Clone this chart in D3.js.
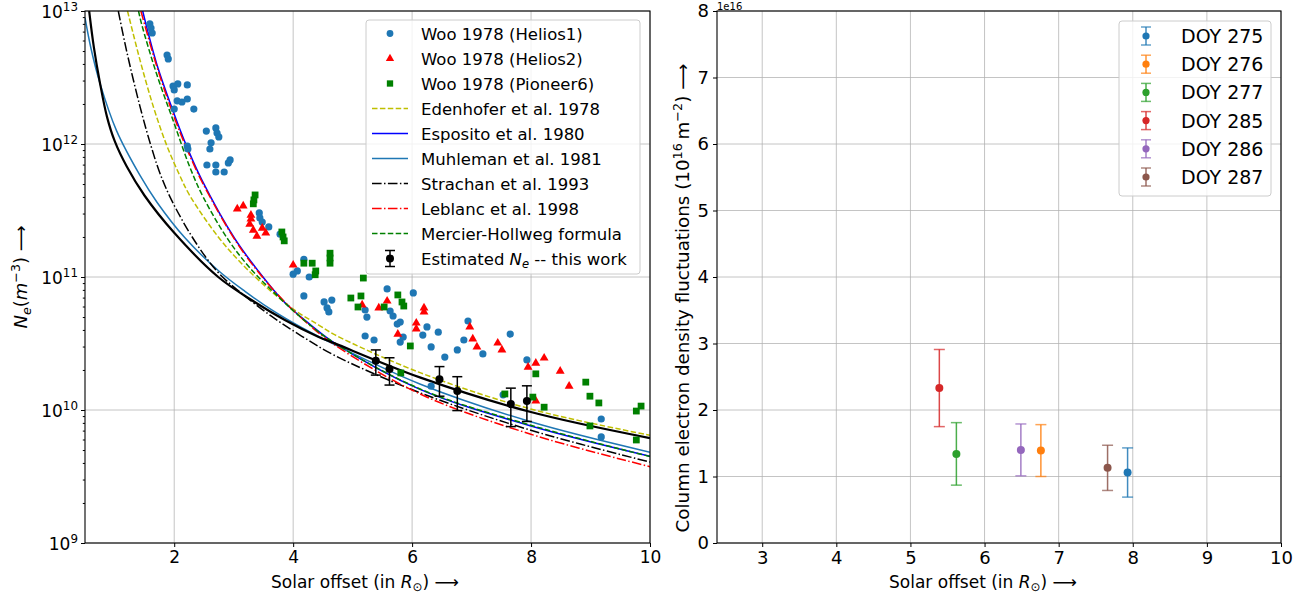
<!DOCTYPE html>
<html lang="en">
<head>
<meta charset="UTF-8">
<title>Electron density</title>
<script src="https://cdn.jsdelivr.net/npm/d3@7"></script>
<style>
  body { margin: 0; background: #fff; }
  svg { font-family: "DejaVu Sans", sans-serif; }
</style>
</head>
<body>
<svg id="chart" width="1314" height="598"></svg>
<script>
// ---- data ----
// Woo 1978 measurements [solar offset (R_sun), Ne (m^-3)]
const helios1 = [[1.59,7.99e12],[1.61,7.45e12],[1.63,6.83e12],[1.88,4.67e12],[1.90,4.36e12],[1.98,2.73e12],[2.06,2.83e12],
  [2.22,2.78e12],[2.00,2.55e12],[2.05,2.11e12],[2.00,1.83e12],[2.13,2.07e12],[2.22,2.18e12],[2.33,1.83e12],
  [2.54,1.25e12],[2.70,1.32e12],[2.72,1.21e12],[2.75,1.13e12],[2.62,1.02e12],[2.60,9.17e11],[2.22,9.66e11],
  [2.23,9.17e11],[2.55,6.95e11],[2.70,6.95e11],[2.70,6.16e11],[2.84,6.16e11],[2.91,7.20e11],[2.94,7.59e11],
  [3.43,3.03e11],[3.44,2.78e11],[3.48,2.59e11],[3.59,2.38e11],[3.78,2.10e11],[4.18,1.36e11],[4.07,1.11e11],
  [4.00,1.05e11],[4.27,1.00e11],[4.18,7.2e10],[4.52,6.49e10],[4.65,6.71e10],[4.57,5.85e10],[4.60,5.46e10],
  [5.58,8.13e10],[6.02,7.59e10],[5.21,5.65e10],[5.24,5.0e10],[5.63,5.55e10],[5.68,5.09e10],[5.80,4.59e10],
  [5.75,4.43e10],[5.21,3.60e10],[5.36,3.36e10],[5.80,3.24e10],[5.85,3.54e10],[6.25,4.21e10],[6.18,3.66e10],
  [6.44,3.85e10],[6.32,2.98e10],[6.94,4.67e10],[6.87,3.36e10],[6.76,2.83e10],[6.55,2.50e10],[7.19,2.64e10],
  [7.65,3.72e10],[7.93,2.38e10],[6.32,1.51e10],[7.53,1.30e10],[9.18,8.56e9],[9.18,6.27e9]];
const helios2 = [[3.06,3.25e11],[3.16,3.42e11],[3.29,2.92e11],[3.29,2.73e11],[3.27,2.50e11],[3.33,2.25e11],
  [3.39,2.03e11],[3.48,2.33e11],[3.54,2.14e11],[4.00,1.23e11],[5.16,6.16e10],[5.44,5.85e10],[5.58,6.6e10],
  [6.20,5.85e10],[6.20,5.46e10],[6.07,4.51e10],[6.07,4.07e10],[5.76,3.72e10],[6.97,4.21e10],[7.02,3.42e10],
  [7.09,2.98e10],[7.44,3.19e10],[7.51,2.83e10],[7.95,2.10e10],[8.08,2.25e10],[8.22,2.46e10],[8.49,1.96e10],
  [8.64,1.51e10],[8.08,1.17e10]];
const pioneer6 = [[3.36,4.14e11],[3.34,3.80e11],[3.33,3.55e11],[3.81,2.18e11],[3.83,2.00e11],[3.85,1.87e11],
  [4.18,1.27e11],[4.32,1.27e11],[4.38,1.11e11],[4.37,1.04e11],[4.62,1.51e11],[4.62,1.39e11],[4.62,1.27e11],
  [5.18,9.82e10],[4.97,6.95e10],[5.14,7.2e10],[5.09,5.95e10],[5.53,5.95e10],[5.76,7.33e10],[5.83,6.49e10],
  [5.86,6.05e10],[5.97,3.03e10],[5.81,1.90e10],[7.56,1.32e10],[8.03,1.25e10],[8.08,1.87e10],[8.22,1.05e10],
  [8.92,1.62e10],[8.99,1.27e10],[9.14,1.13e10],[8.99,7.59e9],[9.77,9.82e9],[9.85,1.07e10],[9.77,5.95e9]];

// model curves
const edenhofer = [[1.215,1e13],[1.425,4.27e12],[1.649,1.91e12],[1.874,9.77e11],[2.086,5.89e11],[2.266,4.07e11],
  [2.741,2.0e11],[3.135,1.26e11],[3.583,8.13e10],[4.031,5.62e10],[4.423,4.37e10],[4.704,3.67e10],[6.133,1.91e10],
  [7.983,1.02e10],[10,6.46e9]];
const esposito = [[1.47,1e13],[1.706,4.0e12],[1.985,1.75e12],[2.21,9.6e11],[2.462,5.4e11],[3.022,1.93e11],
  [3.414,1.11e11],[3.863,6.4e10],[4.312,4.3e10],[4.704,3.17e10],[6.133,1.43e10],[7.983,7.62e9],[10,4.49e9]];
const muhleman = [[0.5,8.9e12],[0.6,5.25e12],[0.75,2.88e12],[1.03,1.26e12],[1.43,5.75e11],[1.71,3.65e11],
  [2.18,1.97e11],[2.74,1.12e11],[3.19,7.8e10],[3.64,5.65e10],[4.14,4.17e10],[4.70,3.1e10],[6.13,1.57e10],
  [7.98,8.2e9],[10,4.82e9]];
const strachan = [[1.06,1e13],[1.2,5.0e12],[1.425,1.91e12],[1.6,1e12],[1.76,6.03e11],[1.96,3.75e11],
  [2.35,1.85e11],[2.74,1.08e11],[3.14,7.5e10],[3.64,5.05e10],[4.14,3.6e10],[4.70,2.57e10],[6.13,1.35e10],
  [7.98,7.08e9],[10,4.06e9]];
const leblanc = [[1.44,1e13],[1.706,3.84e12],[1.985,1.655e12],[2.21,9.26e11],[2.462,5.25e11],[3.022,1.90e11],
  [3.414,1.09e11],[3.863,6.46e10],[4.312,4.2e10],[4.704,3.07e10],[6.133,1.32e10],[7.983,6.6e9],[10,3.75e9]];
const mercier = [[1.40,1e13],[1.453,7.94e12],[1.706,3.34e12],[1.985,1.49e12],[2.266,6.64e11],[2.489,3.98e11],
  [2.910,1.90e11],[3.303,1.13e11],[3.751,7.11e10],[4.144,4.9e10],[4.704,3.17e10],[6.133,1.44e10],[7.983,7.71e9],
  [10,4.47e9]];
const thisWorkFit = [[0.57,1e13],[0.65,5.3e12],[0.75,2.9e12],[0.87,1.6e12],[1.0,1.05e12],[1.2,6.8e11],[1.5,4.1e11],
  [2.0,2.15e11],[2.74,1.0e11],[3.30,6.71e10],[3.86,4.75e10],[4.42,3.56e10],[4.70,3.17e10],[6.13,1.76e10],
  [7.98,9.70e9],[10,6.15e9]];

// estimated Ne -- this work
const neOffset = [5.39, 5.62, 6.46, 6.76, 7.66, 7.93];
const neValue = [2.35e10, 2.03e10, 1.70e10, 1.39e10, 1.11e10, 1.17e10];
const neLow = [1.83e10, 1.54e10, 1.27e10, 0.99e10, 0.75e10, 0.82e10];
const neHigh = [2.83e10, 2.47e10, 2.12e10, 1.78e10, 1.46e10, 1.52e10];

// column electron density fluctuations (units of 1e16 m^-2)
const doyLabels = ['DOY 275', 'DOY 276', 'DOY 277', 'DOY 285', 'DOY 286', 'DOY 287'];
const doyOffset = [7.93, 6.76, 5.62, 5.39, 6.49, 7.66];
const doyValue = [1.06, 1.39, 1.34, 2.33, 1.40, 1.13];
const doyErr = [0.37, 0.39, 0.47, 0.58, 0.39, 0.34];

const xTicksL = [2, 4, 6, 8, 10];
const yTicksL = [1e9, 1e10, 1e11, 1e12, 1e13];
const xTicksR = [3, 4, 5, 6, 7, 8, 9, 10];
const yTicksR = [0, 1, 2, 3, 4, 5, 6, 7, 8];

const legendLabelsL = ['Woo 1978 (Helios1)', 'Woo 1978 (Helios2)', 'Woo 1978 (Pioneer6)', 'Edenhofer et al. 1978',
  'Esposito et al. 1980', 'Muhleman et al. 1981', 'Strachan et al. 1993', 'Leblanc et al. 1998', 'Mercier-Hollweg formula'];

// ---- layout ----
const tab10 = ['#1f77b4', '#ff7f0e', '#2ca02c', '#d62728', '#9467bd', '#8c564b'];
const L = { x0: 85, x1: 650, y0: 11, y1: 543 };
const R = { x0: 717, x1: 1281, y0: 11, y1: 543 };
const FONT = '"DejaVu Sans", sans-serif';

const svg = d3.select('#chart');

const xL = d3.scaleLinear().domain([0.5, 10]).range([L.x0, L.x1]);
const yL = d3.scaleLog().domain([1e9, 1e13]).range([L.y1, L.y0]);
const xR = d3.scaleLinear().domain([2.39, 10]).range([R.x0, R.x1]);
const yR = d3.scaleLinear().domain([0, 8]).range([R.y1, R.y0]);

const defs = svg.append('defs');
defs.append('clipPath').attr('id', 'clipL').append('rect')
  .attr('x', L.x0).attr('y', L.y0).attr('width', L.x1 - L.x0).attr('height', L.y1 - L.y0);
defs.append('clipPath').attr('id', 'clipR').append('rect')
  .attr('x', R.x0).attr('y', R.y0).attr('width', R.x1 - R.x0).attr('height', R.y1 - R.y0);

// text with italic / sub / superscript parts
function rich(text, parts, fs) {
  let shift = 0;
  parts.forEach(([t, kind]) => {
    let target = 0;
    if (kind === 'sup' || kind === 'isup') target = -0.4 * fs;
    if (kind === 'sub' || kind === 'isub') target = 0.2 * fs;
    const ts = text.append('tspan').attr('dy', target - shift).text(t);
    shift = target;
    if (kind !== 'n' && kind !== 'i') ts.attr('font-size', fs * 0.7);
    if (kind === 'i' || kind === 'isub' || kind === 'isup') ts.attr('font-style', 'italic');
  });
}

function grid(g, xs, ys, xVals, yVals, box) {
  const gg = g.append('g').attr('stroke', '#b0b0b0').attr('stroke-width', 1).attr('stroke-opacity', 0.75);
  gg.selectAll('.gx').data(xVals).enter().append('line')
    .attr('x1', d => xs(d)).attr('x2', d => xs(d)).attr('y1', box.y0).attr('y2', box.y1);
  gg.selectAll('.gy').data(yVals).enter().append('line')
    .attr('y1', d => ys(d)).attr('y2', d => ys(d)).attr('x1', box.x0).attr('x2', box.x1);
}

function styleAxis(g, fs) {
  g.select('.domain').remove();
  g.attr('font-family', FONT).attr('font-size', fs);
  g.selectAll('line').attr('stroke', '#000').attr('stroke-width', 1);
  g.selectAll('text').attr('fill', '#000');
}

// ================= left panel =================
const left = svg.append('g');
grid(left, xL, yL, xTicksL, yTicksL, L);

const lineL = d3.line().x(d => xL(d[0])).y(d => yL(d[1])).curve(d3.curveCatmullRom.alpha(0.5));
const curves = left.append('g').attr('clip-path', 'url(#clipL)').attr('fill', 'none');

const modelStyles = [
  { data: edenhofer, color: '#bfbf00', dash: '5.5,2.4', w: 1.5 },
  { data: esposito, color: '#0000ff', dash: null, w: 1.5 },
  { data: muhleman, color: '#1f77b4', dash: null, w: 1.5 },
  { data: strachan, color: '#000000', dash: '9.6,2.4,1.5,2.4', w: 1.5 },
  { data: leblanc, color: '#ff0000', dash: '9.6,2.4,1.5,2.4', w: 1.5 },
  { data: mercier, color: '#008000', dash: '5.5,2.4', w: 1.5 }
];

// scatter markers
const pts = left.append('g').attr('clip-path', 'url(#clipL)');
pts.selectAll('.h1').data(helios1).enter().append('circle')
  .attr('cx', d => xL(d[0])).attr('cy', d => yL(d[1])).attr('r', 3.6).attr('fill', '#1f77b4');
pts.selectAll('.h2').data(helios2).enter().append('path')
  .attr('transform', d => `translate(${xL(d[0])},${yL(d[1])})`)
  .attr('d', d3.symbol(d3.symbolTriangle, 34)).attr('fill', '#ff0000');
pts.selectAll('.p6').data(pioneer6).enter().append('path')
  .attr('transform', d => `translate(${xL(d[0])},${yL(d[1])})`)
  .attr('d', d3.symbol(d3.symbolSquare, 46)).attr('fill', '#008000');

modelStyles.forEach(m => {
  curves.append('path').datum(m.data).attr('d', lineL)
    .attr('stroke', m.color).attr('stroke-width', m.w)
    .attr('stroke-dasharray', m.dash);
});
curves.append('path').datum(thisWorkFit).attr('d', lineL)
  .attr('stroke', '#000').attr('stroke-width', 2.2);

// error bars
const ebL = left.append('g').attr('stroke', '#000').attr('stroke-width', 1.5);
neOffset.forEach((x, i) => {
  const cx = xL(x);
  ebL.append('line').attr('x1', cx).attr('x2', cx).attr('y1', yL(neLow[i])).attr('y2', yL(neHigh[i]));
  ebL.append('line').attr('x1', cx - 5).attr('x2', cx + 5).attr('y1', yL(neLow[i])).attr('y2', yL(neLow[i]));
  ebL.append('line').attr('x1', cx - 5).attr('x2', cx + 5).attr('y1', yL(neHigh[i])).attr('y2', yL(neHigh[i]));
  ebL.append('circle').attr('cx', cx).attr('cy', yL(neValue[i])).attr('r', 4).attr('fill', '#000').attr('stroke', 'none');
});

left.append('rect').attr('x', L.x0).attr('y', L.y0).attr('width', L.x1 - L.x0).attr('height', L.y1 - L.y0)
  .attr('fill', 'none').attr('stroke', '#000').attr('stroke-width', 1.1);

// axes
const axXL = left.append('g').attr('transform', `translate(0,${L.y1})`)
  .call(d3.axisBottom(xL).tickValues(xTicksL).tickSize(4).tickPadding(4).tickFormat(d3.format('d')));
styleAxis(axXL, 17);

const minorL = [];
yTicksL.slice(0, -1).forEach(dec => { for (let k = 2; k <= 9; k++) minorL.push(dec * k); });
const axMinor = left.append('g').attr('transform', `translate(${L.x0},0)`)
  .call(d3.axisLeft(yL).tickValues(minorL).tickSize(2.2).tickFormat(''));
styleAxis(axMinor, 17);
axMinor.selectAll('.tick text').remove();

const axYL = left.append('g').attr('transform', `translate(${L.x0},0)`)
  .call(d3.axisLeft(yL).tickValues(yTicksL).tickSize(4).tickFormat(''));
styleAxis(axYL, 17);
axYL.selectAll('.tick text').remove();
axYL.selectAll('.tick').append('text')
  .attr('x', -7).attr('y', 6).attr('text-anchor', 'end').attr('fill', '#000')
  .each(function (d) {
    rich(d3.select(this), [['10', 'n'], [String(Math.round(Math.log10(d))), 'sup']], 17);
  });

// axis labels
const xlabL = left.append('text').attr('x', 365).attr('y', 588)
  .attr('text-anchor', 'middle').attr('font-size', 17);
rich(xlabL, [['Solar offset (in ', 'n'], ['R', 'i'], ['\u2299', 'sub'], [')  \u27F6', 'n']], 17);

const ylabL = left.append('text').attr('transform', `translate(27,${(L.y0 + L.y1) / 2}) rotate(-90)`)
  .attr('text-anchor', 'middle').attr('font-size', 18);
rich(ylabL, [['N', 'i'], ['e', 'isub'], ['(', 'n'], ['m', 'i'], ['\u22123', 'sup'], [')  \u27F6', 'n']], 18);

// legend
const legL = left.append('g').attr('font-size', 16.5);
legL.append('rect').attr('x', 366).attr('y', 20).attr('width', 274).attr('height', 254).attr('rx', 3)
  .attr('fill', '#fff').attr('fill-opacity', 0.8).attr('stroke', '#cccccc');
const rowY = i => 33.5 + i * 25;
legendLabelsL.concat(['']).forEach((lab, i) => {
  const cy = rowY(i);
  if (i === 0) legL.append('circle').attr('cx', 390).attr('cy', cy).attr('r', 3.4).attr('fill', '#1f77b4');
  else if (i === 1) legL.append('path').attr('transform', `translate(390,${cy})`)
    .attr('d', d3.symbol(d3.symbolTriangle, 30)).attr('fill', '#ff0000');
  else if (i === 2) legL.append('path').attr('transform', `translate(390,${cy})`)
    .attr('d', d3.symbol(d3.symbolSquare, 40)).attr('fill', '#008000');
  else if (i < 9) {
    const m = modelStyles[i - 3];
    legL.append('line').attr('x1', 372).attr('x2', 408).attr('y1', cy).attr('y2', cy)
      .attr('stroke', m.color).attr('stroke-width', m.w).attr('stroke-dasharray', m.dash);
  } else {
    legL.append('line').attr('x1', 390).attr('x2', 390).attr('y1', cy - 8).attr('y2', cy + 8).attr('stroke', '#000').attr('stroke-width', 1.5);
    legL.append('line').attr('x1', 385).attr('x2', 395).attr('y1', cy - 8).attr('y2', cy - 8).attr('stroke', '#000').attr('stroke-width', 1.5);
    legL.append('line').attr('x1', 385).attr('x2', 395).attr('y1', cy + 8).attr('y2', cy + 8).attr('stroke', '#000').attr('stroke-width', 1.5);
    legL.append('circle').attr('cx', 390).attr('cy', cy).attr('r', 4).attr('fill', '#000');
  }
  const t = legL.append('text').attr('x', 421).attr('y', cy + 6).attr('fill', '#000');
  if (i < 9) t.text(lab);
  else rich(t, [['Estimated ', 'n'], ['N', 'i'], ['e', 'isub'], [' -- this work', 'n']], 16.5);
});

// ================= right panel =================
const right = svg.append('g');
grid(right, xR, yR, xTicksR, yTicksR, R);

const ebR = right.append('g').attr('clip-path', 'url(#clipR)').attr('stroke-width', 1.5);
doyOffset.forEach((x, i) => {
  const cx = xR(x), c = tab10[i];
  const lo = yR(doyValue[i] - doyErr[i]), hi = yR(doyValue[i] + doyErr[i]);
  const g = ebR.append('g').attr('stroke', c);
  g.append('line').attr('x1', cx).attr('x2', cx).attr('y1', lo).attr('y2', hi).attr('stroke-opacity', 0.85);
  g.append('line').attr('x1', cx - 5.5).attr('x2', cx + 5.5).attr('y1', lo).attr('y2', lo).attr('stroke-opacity', 0.7);
  g.append('line').attr('x1', cx - 5.5).attr('x2', cx + 5.5).attr('y1', hi).attr('y2', hi).attr('stroke-opacity', 0.7);
  g.append('circle').attr('cx', cx).attr('cy', yR(doyValue[i])).attr('r', 4).attr('fill', c).attr('stroke', 'none');
});

right.append('rect').attr('x', R.x0).attr('y', R.y0).attr('width', R.x1 - R.x0).attr('height', R.y1 - R.y0)
  .attr('fill', 'none').attr('stroke', '#000').attr('stroke-width', 1.1);

const axXR = right.append('g').attr('transform', `translate(0,${R.y1})`)
  .call(d3.axisBottom(xR).tickValues(xTicksR).tickSize(4).tickPadding(4).tickFormat(d3.format('d')));
styleAxis(axXR, 18);
const axYR = right.append('g').attr('transform', `translate(${R.x0},0)`)
  .call(d3.axisLeft(yR).tickValues(yTicksR).tickSize(4).tickPadding(4).tickFormat(d3.format('d')));
styleAxis(axYR, 18);

right.append('text').attr('x', R.x0).attr('y', 9.5).attr('font-size', 10).text('1e16');

const xlabR = right.append('text').attr('x', 983).attr('y', 588)
  .attr('text-anchor', 'middle').attr('font-size', 17);
rich(xlabR, [['Solar offset (in ', 'n'], ['R', 'i'], ['\u2299', 'sub'], [')  \u27F6', 'n']], 17);

const ylabR = right.append('text').attr('transform', `translate(689,298) rotate(-90)`)
  .attr('text-anchor', 'middle').attr('font-size', 18.3);
rich(ylabR, [['Column electron density fluctuations (10', 'n'], ['16', 'sup'], ['\u2009m', 'n'], ['\u22122', 'sup'], [')  \u27F6', 'n']], 18.3);

// legend
const legR = right.append('g').attr('font-size', 19);
legR.append('rect').attr('x', 1119).attr('y', 21).attr('width', 152).attr('height', 175).attr('rx', 3)
  .attr('fill', '#fff').attr('fill-opacity', 0.8).attr('stroke', '#cccccc');
doyLabels.forEach((lab, i) => {
  const cy = 36 + i * 28.2, c = tab10[i];
  const g = legR.append('g').attr('stroke', c).attr('stroke-width', 1.5);
  g.append('line').attr('x1', 1146).attr('x2', 1146).attr('y1', cy - 9).attr('y2', cy + 9).attr('stroke-opacity', 0.85);
  g.append('line').attr('x1', 1141).attr('x2', 1151).attr('y1', cy - 9).attr('y2', cy - 9).attr('stroke-opacity', 0.7);
  g.append('line').attr('x1', 1141).attr('x2', 1151).attr('y1', cy + 9).attr('y2', cy + 9).attr('stroke-opacity', 0.7);
  g.append('circle').attr('cx', 1146).attr('cy', cy).attr('r', 3.6).attr('fill', c).attr('stroke', 'none');
  legR.append('text').attr('x', 1181).attr('y', cy + 7).attr('fill', '#000').text(lab);
});
</script>
</body>
</html>
